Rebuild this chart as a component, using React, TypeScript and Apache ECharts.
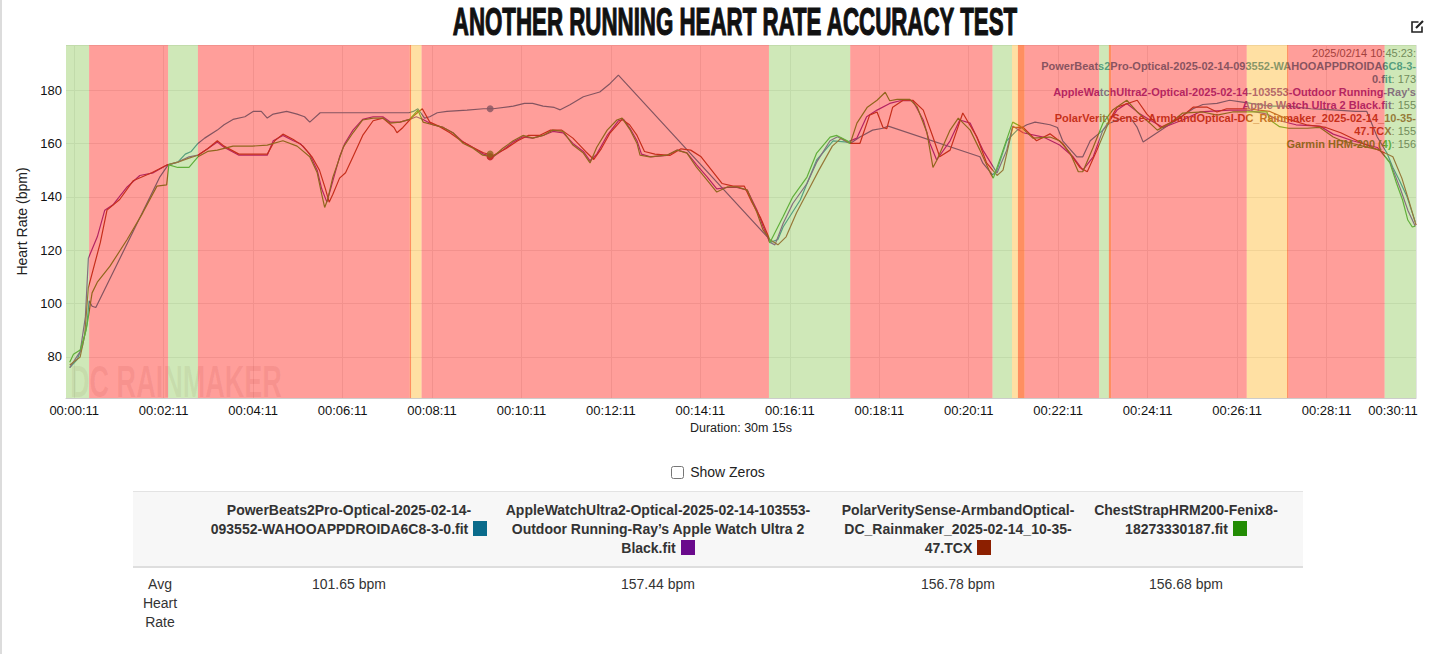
import React, { useEffect, useRef } from "react";
import * as echarts from "echarts";

const TITLE = "ANOTHER RUNNING HEART RATE ACCURACY TEST";
const FONT = '"Liberation Sans", Arial, Helvetica, sans-serif';

const SERIES_KEYS = ["pb", "aw", "pl", "cs"];
const SERIES_COLORS = ["#0a6b8b", "#6a0a8c", "#8c1f00", "#238c04"];
const HEADER_LINES = [
  ["PowerBeats2Pro-Optical-2025-02-14-", "093552-WAHOOAPPDROIDA6C8-3-0.fit"],
  ["AppleWatchUltra2-Optical-2025-02-14-103553-", "Outdoor Running-Ray\u2019s Apple Watch Ultra 2", "Black.fit"],
  ["PolarVeritySense-ArmbandOptical-", "DC_Rainmaker_2025-02-14_10-35-", "47.TCX"],
  ["ChestStrapHRM200-Fenix8-", "18273330187.fit"],
];
const HEADER_CENTERS = [349, 658, 958, 1186];
const AVG_HR = ["101.65 bpm", "157.44 bpm", "156.78 bpm", "156.68 bpm"];
const ROW_LABEL = ["Avg", "Heart", "Rate"];

const TOOLTIP_TIME = "2025/02/14 10:45:23:";
const TOOLTIP_LINES: [number, string, string][] = [
  [0, "PowerBeats2Pro-Optical-2025-02-14-093552-WAHOOAPPDROIDA6C8-3-", ""],
  [0, "0.fit", ": 173"],
  [1, "AppleWatchUltra2-Optical-2025-02-14-103553-Outdoor Running-Ray's", ""],
  [1, "Apple Watch Ultra 2 Black.fit", ": 155"],
  [2, "PolarVeritySense-ArmbandOptical-DC_Rainmaker_2025-02-14_10-35-", ""],
  [2, "47.TCX", ": 155"],
  [3, "Garmin HRM-200 (4)", ": 156"],
];
const HOVER_TIME = 569;
const HOVER_VALUES = [173, 155, 155, 156];

const X_TICKS = [11, 131, 251, 371, 491, 611, 731, 851, 971, 1091, 1211, 1331, 1451, 1571, 1691, 1811];
const X_MAX = 1811;
const Y_MIN = 64.6;
const Y_MAX = 196.9;

// zone bands: [start s, end s, kind]  kind: 0 green, 1 red, 2 yellow, 3 orange
const BANDS: [number, number, number][] = [
  [0, 31, 0], [31, 137, 1], [137, 177, 0], [177, 461, 1], [461, 463, 3], [463, 477, 2],
  [477, 943, 1], [943, 1052, 0], [1052, 1243, 1], [1243, 1269, 0], [1269, 1277, 2],
  [1277, 1286, 3], [1286, 1386, 1], [1386, 1399, 0], [1399, 1402, 3], [1402, 1584, 1],
  [1584, 1638, 2], [1638, 1640, 3], [1640, 1769, 1], [1769, 1811, 0],
];
const BAND_COLORS = ["rgba(159,209,113,0.5)", "rgba(255,61,53,0.5)", "rgba(255,193,71,0.5)", "rgba(255,96,28,0.7)"];

const powerBeats: [number, number][] = [
  [5, 76], [15, 79], [22, 84], [28, 92], [31, 101], [35, 99], [40, 98.5], [126, 147.5], [137, 152], [150, 153],
  [160, 156], [168, 157], [177, 160], [186, 162], [203, 165], [212, 167], [224, 169], [240, 170], [251, 172],
  [262, 172], [270, 169.5], [278, 171], [296, 172], [310, 171], [320, 170], [327, 168], [341, 171.5],
  [460, 171.5], [466, 172], [472, 173], [481, 169.5], [488, 170], [498, 171.5], [511, 172], [538, 172.5],
  [560, 173], [573, 173], [600, 174], [615, 175], [626, 175], [640, 174], [655, 173.5], [663, 172.6],
  [676, 174.5], [694, 177.5], [716, 179.3], [730, 182.5], [741, 185.6], [942, 124.6], [946, 123], [955, 124],
  [962, 128.7], [985, 138.8], [1007, 153.8], [1029, 161], [1048, 160.5], [1052, 160], [1065, 162.4],
  [1082, 165], [1096, 165.7], [1103, 166.5], [1226, 155], [1230, 152.6], [1243, 148.2], [1249, 150],
  [1262, 161], [1276, 165], [1289, 167], [1300, 168], [1320, 167], [1330, 166], [1337, 161], [1356, 155],
  [1364, 155], [1374, 161], [1391, 165], [1400, 167.6], [1410, 168.8], [1427, 170], [1437, 166],
  [1445, 160.5], [1512, 173], [1525, 174.6], [1544, 175], [1561, 176.2], [1578, 175.5], [1590, 175],
  [1615, 174], [1640, 174], [1670, 173], [1700, 172.6], [1730, 172], [1745, 172], [1759, 162.4],
  [1772, 156.4], [1780, 151], [1789, 146], [1799, 140], [1806, 134], [1810, 130.6],
];

const appleWatch: [number, number][] = [
  [5, 76], [19, 82], [26, 95], [30, 117], [42, 125], [52, 135], [63, 137], [82, 143.7], [99, 148], [117, 149],
  [136, 152], [150, 153], [165, 155], [177, 155.6], [190, 158], [203, 160.5], [212, 158.6], [232, 155.6],
  [250, 155.6], [270, 155.6], [278, 161], [291, 163], [305, 161], [314, 160], [327, 156], [337, 150],
  [343, 143], [350, 138], [358, 146], [367, 155], [374, 160], [385, 165], [398, 169], [412, 170], [425, 170],
  [435, 168], [448, 168], [461, 169], [470, 170], [479, 169], [492, 167], [506, 166], [519, 164],
  [533, 160.5], [546, 158.5], [560, 156], [573, 155], [586, 157.5], [600, 160.5], [613, 162.5], [626, 162],
  [640, 163], [653, 164.5], [667, 164], [680, 160], [694, 157], [703, 153.5], [712, 156], [726, 163],
  [741, 168.5], [748, 169], [757, 165.5], [766, 161], [772, 156], [784, 155], [806, 155.5], [820, 157.5],
  [833, 156.5], [846, 152], [860, 147.5], [873, 143], [887, 143.5], [900, 143.5], [914, 142.5], [927, 135],
  [935, 129], [944, 123], [951, 122], [962, 130], [975, 137.5], [994, 145], [1007, 153], [1025, 161],
  [1035, 162.5], [1048, 160.5], [1061, 162], [1074, 170], [1088, 172.5], [1105, 175], [1119, 176],
  [1136, 176], [1150, 168.8], [1159, 160], [1168, 153.8], [1186, 161], [1199, 168.8], [1213, 167.6],
  [1230, 157.5], [1249, 148.9], [1262, 157.5], [1270, 166.5], [1284, 164], [1311, 162.4], [1333, 159.4],
  [1351, 155], [1364, 150], [1378, 155], [1391, 165], [1410, 172.5], [1423, 175], [1441, 171],
  [1454, 168.8], [1472, 166], [1498, 168.8], [1521, 171.8], [1561, 172.5], [1584, 172.5], [1611, 171],
  [1628, 168.5], [1650, 167], [1682, 166.5], [1700, 163.5], [1726, 161], [1759, 158.5], [1776, 153],
  [1790, 143], [1800, 135], [1810, 129],
];

const polar: [number, number][] = [
  [5, 77], [19, 80], [25, 88], [30, 106], [46, 122.8], [55, 135], [72, 139], [90, 146], [115, 149], [136, 152],
  [150, 153], [165, 154.5], [177, 155.6], [190, 158], [203, 161], [212, 159], [232, 156], [250, 156], [270, 156],
  [280, 161], [291, 163.5], [305, 161.5], [318, 159], [330, 155], [340, 150], [348, 143], [353, 138],
  [358, 141], [367, 147], [375, 149], [385, 155], [398, 163], [412, 168.5], [425, 169.5], [440, 166],
  [444, 164], [452, 166], [465, 170], [478, 173], [488, 168], [500, 166.5], [515, 164], [530, 161],
  [546, 158.5], [560, 156.5], [573, 155.5], [590, 158], [606, 161], [620, 163], [635, 163], [650, 165],
  [665, 165], [680, 162], [697, 157], [708, 154], [718, 158], [730, 164], [746, 169], [756, 167], [766, 163],
  [776, 157], [790, 156], [810, 155.5], [825, 158], [838, 157.5], [852, 155], [866, 150], [880, 145],
  [895, 144], [910, 144], [920, 138], [932, 132], [944, 124], [955, 122], [966, 125], [980, 134], [995, 142],
  [1010, 150], [1028, 159], [1040, 162], [1052, 160], [1065, 160], [1078, 170.6], [1088, 171.8], [1096, 166],
  [1101, 165.5], [1109, 173.6], [1123, 176.2], [1136, 176.2], [1150, 172.5], [1163, 162.4], [1172, 155],
  [1186, 157.5], [1203, 171.4], [1222, 162.4], [1235, 152.7], [1249, 148], [1257, 150], [1270, 166],
  [1284, 166], [1302, 161], [1320, 163.6], [1337, 160], [1360, 151], [1370, 149.4], [1383, 157.5],
  [1400, 168.8], [1410, 173.6], [1437, 176.2], [1450, 171], [1468, 166], [1494, 169.5], [1512, 173.6],
  [1531, 173.6], [1544, 171.8], [1557, 173], [1584, 173], [1615, 172], [1640, 169], [1664, 167], [1690, 166],
  [1710, 164], [1740, 160], [1765, 157], [1780, 155], [1792, 147], [1802, 138], [1811, 129.4],
];

const chestStrap: [number, number][] = [
  [5, 78], [10, 81], [19, 82.6], [27, 90], [30, 95], [35, 104], [42, 108], [59, 114], [82, 124], [103, 134],
  [122, 144], [135, 144.5], [138, 152], [150, 151], [165, 151], [177, 155], [190, 157], [203, 157.5],
  [224, 159], [250, 159], [270, 159.4], [291, 161], [310, 159], [327, 155], [337, 149], [343, 141], [347, 136],
  [351, 139], [358, 147.4], [372, 158.6], [385, 164], [398, 168.8], [412, 169.5], [425, 169.5], [435, 167.6],
  [448, 168], [461, 169], [472, 172.5], [479, 168], [492, 167], [506, 166], [519, 164], [533, 160],
  [546, 158.2], [559, 155.6], [573, 155], [586, 158.2], [600, 161], [613, 163], [626, 162], [640, 163],
  [653, 165], [667, 164.5], [680, 159.4], [694, 156.4], [703, 152.7], [712, 158.6], [726, 165], [739, 168.8],
  [746, 169.5], [757, 165], [766, 160], [770, 155.6], [783, 155], [806, 155.6], [820, 157.5], [833, 156.4],
  [846, 151], [860, 146.3], [873, 141.8], [887, 143.7], [900, 143.7], [914, 142.5], [927, 134], [935, 127.6],
  [942, 125], [944, 122.7], [962, 132.6], [975, 140], [994, 147.4], [1007, 156.4], [1025, 162.4], [1034, 163],
  [1048, 161], [1052, 160], [1061, 167.6], [1075, 173.6], [1088, 176.2], [1099, 179.2], [1105, 176],
  [1115, 176.5], [1132, 176.5], [1142, 173.6], [1155, 164], [1163, 151], [1168, 153.6], [1186, 165],
  [1197, 169.5], [1213, 165], [1226, 157.5], [1240, 148.9], [1244, 147], [1257, 157.5], [1270, 168],
  [1280, 166.5], [1297, 162], [1320, 162.4], [1333, 161], [1347, 156.4], [1358, 149.4], [1364, 149.4],
  [1378, 158.6], [1391, 167.6], [1404, 172.5], [1423, 176.2], [1437, 171.8], [1454, 167.6], [1464, 165],
  [1481, 167.6], [1498, 171.4], [1525, 171.8], [1544, 170.6], [1565, 171.8], [1584, 171.8], [1611, 171.8],
  [1615, 168.8], [1628, 166.3], [1640, 165.7], [1665, 165.7], [1682, 166], [1692, 164], [1700, 162.4],
  [1709, 161.3], [1726, 160], [1745, 158.6], [1763, 157.5], [1776, 152.7], [1785, 145], [1793, 138.8],
  [1800, 131.3], [1806, 128.7], [1810, 129],
];

const SERIES_DATA = [powerBeats, appleWatch, polar, chestStrap];

const pad2 = (n: number) => (n < 10 ? "0" + n : "" + n);
const fmtTime = (v: number) => {
  const h = Math.floor(v / 3600);
  const m = Math.floor((v % 3600) / 60);
  const s = Math.round(v % 60);
  return pad2(h) + ":" + pad2(m) + ":" + pad2(s);
};

function measure(text: string, font: string) {
  const c = document.createElement("canvas").getContext("2d");
  if (!c) return text.length * 20;
  c.font = font;
  return c.measureText(text).width;
}

function Chart() {
  const ref = useRef<HTMLDivElement>(null);
  useEffect(() => {
    if (!ref.current) return;
    const chart = echarts.init(ref.current, undefined, { renderer: "svg" });
    const titleFont = 'bold 38px "Liberation Sans", Arial, sans-serif';
    const titleScale = 566 / measure(TITLE, titleFont);
    const wmFont = 'bold 44px "Liberation Sans", Arial, sans-serif';
    const wmScale = 212 / measure("DC RAINMAKER", wmFont);

    const rich: any = {
      v: { fill: "#444", fontSize: 11, fontFamily: FONT, fontWeight: "normal" },
    };
    SERIES_KEYS.forEach((k, i) => {
      rich[k] = { fill: SERIES_COLORS[i], fontSize: 11, fontFamily: FONT, fontWeight: "bold" };
    });

    const tooltipTexts: any[] = [
      {
        type: "text",
        z: 3,
        x: 1416,
        y: 53,
        style: { text: TOOLTIP_TIME, fill: "#444", font: "11px " + FONT, align: "right", verticalAlign: "middle" },
      },
      ...TOOLTIP_LINES.map((l, i) => ({
        type: "text",
        z: 3,
        x: 1416,
        y: 66 + i * 13,
        style: {
          text: `{${SERIES_KEYS[l[0]]}|${l[1]}}` + (l[2] ? `{v|${l[2]}}` : ""),
          rich,
          align: "right",
          verticalAlign: "middle",
        },
      })),
    ];

    const option: any = {
      animation: false,
      grid: { left: 66, right: 20, top: 45, bottom: 47 },
      xAxis: {
        type: "value",
        min: 0,
        max: X_MAX,
        name: "Duration: 30m 15s",
        nameLocation: "middle",
        nameGap: 23,
        nameTextStyle: { fontSize: 12.5, color: "#222", fontFamily: FONT },
        axisLine: { show: true, lineStyle: { color: "#cccccc" } },
        axisTick: { show: false, customValues: X_TICKS },
        splitLine: { show: true, lineStyle: { color: "#e4e4e4" } },
        axisLabel: {
          customValues: X_TICKS,
          color: "#111",
          fontSize: 13,
          fontFamily: FONT,
          margin: 6,
          formatter: (v: number) =>
            v === X_TICKS[X_TICKS.length - 1] ? `{last|${fmtTime(v)}}` : fmtTime(v),
          rich: { last: { padding: [0, 46, 0, 0], fontSize: 13, color: "#111", fontFamily: FONT } },
        },
      },
      yAxis: {
        type: "value",
        min: Y_MIN,
        max: Y_MAX,
        splitNumber: 6,
        name: "Heart Rate (bpm)",
        nameLocation: "middle",
        nameGap: 28,
        nameTextStyle: { fontSize: 14, color: "#222", fontFamily: FONT },
        axisLine: { show: false },
        axisTick: { show: false },
        splitLine: { show: true, lineStyle: { color: "#e4e4e4" } },
        axisLabel: { color: "#111", fontSize: 13, fontFamily: FONT, margin: 4, showMinLabel: false, showMaxLabel: false },
      },
      series: [
        ...SERIES_DATA.map((d, i) => ({
          type: "line",
          name: SERIES_KEYS[i],
          data: d,
          z: 2,
          showSymbol: false,
          symbol: "none",
          lineStyle: { color: SERIES_COLORS[i], width: 1.2 },
          itemStyle: { color: SERIES_COLORS[i] },
        })),
        {
          type: "scatter",
          z: 3,
          symbolSize: 7,
          data: HOVER_VALUES.map((v, i) => ({ value: [HOVER_TIME, v], itemStyle: { color: SERIES_COLORS[i] } })),
        },
        {
          type: "custom",
          z: 5,
          dimensions: ["start", "end", "kind"],
          encode: { x: [0, 1], y: 2 },
          data: BANDS,
          renderItem: (params: any, api: any) => {
            const p0 = api.coord([api.value(0), Y_MAX]);
            const p1 = api.coord([api.value(1), Y_MIN]);
            const cs = params.coordSys;
            return {
              type: "rect",
              shape: { x: p0[0], y: cs.y, width: p1[0] - p0[0], height: cs.height },
              style: { fill: BAND_COLORS[api.value(2)] },
            };
          },
        },
      ],
      graphic: [
        {
          type: "text",
          z: 20,
          x: 735,
          y: 22,
          scaleX: titleScale,
          style: {
            text: TITLE,
            font: titleFont,
            fill: "#111",
            stroke: "#111",
            lineWidth: 1.2,
            align: "center",
            verticalAlign: "middle",
          },
        },
        {
          type: "text",
          z: 1,
          x: 70,
          y: 382,
          scaleX: wmScale,
          style: {
            text: "DC RAINMAKER",
            font: wmFont,
            fill: "rgba(90,0,0,0.10)",
            align: "left",
            verticalAlign: "middle",
          },
        },
        ...tooltipTexts,
        {
          type: "polyline",
          z: 20,
          shape: { points: [[1418.5, 22], [1412, 22], [1412, 32], [1422, 32], [1422, 26.5]] },
          style: { stroke: "#222", lineWidth: 1.6, fill: null },
        },
        {
          type: "line",
          z: 20,
          shape: { x1: 1416, y1: 28, x2: 1423, y2: 21 },
          style: { stroke: "#222", lineWidth: 2.2 },
        },
      ],
    };
    chart.setOption(option);
    return () => chart.dispose();
  }, []);
  return <div ref={ref} style={{ position: "absolute", left: 0, top: 0, width: 1436, height: 445 }} />;
}

export default function App() {
  const textBase: React.CSSProperties = { fontFamily: FONT, fontSize: 14, color: "#333", lineHeight: "19px" };
  return (
    <div style={{ position: "absolute", left: 0, top: 0, width: 1436, height: 654, background: "#fff", overflow: "hidden" }}>
      <div style={{ position: "absolute", left: 0, top: 0, width: 2, height: 654, background: "#dcdcdc" }} />
      <Chart />
      <div
        style={{
          position: "absolute",
          left: 0,
          top: 463,
          width: 1436,
          textAlign: "center",
          fontFamily: FONT,
          fontSize: 14,
          color: "#222",
          lineHeight: "18px",
        }}
      >
        <input type="checkbox" style={{ margin: "0 6px 0 0", width: 13, height: 13, verticalAlign: -2 }} />
        <span>Show Zeros</span>
      </div>
      <div
        style={{
          position: "absolute",
          left: 133,
          top: 491,
          width: 1170,
          height: 74,
          background: "#f7f7f7",
          borderTop: "1px solid #e3e3e3",
          borderBottom: "2px solid #dedede",
        }}
      />
      {HEADER_LINES.map((lines, i) => (
        <div
          key={i}
          style={{
            ...textBase,
            position: "absolute",
            left: HEADER_CENTERS[i] - 170,
            width: 340,
            top: 501,
            textAlign: "center",
            fontWeight: "bold",
            whiteSpace: "nowrap",
          }}
        >
          {lines.map((l, j) => (
            <div key={j}>
              {l}
              {j === lines.length - 1 ? (
                <span
                  style={{
                    display: "inline-block",
                    width: 14,
                    height: 15,
                    marginLeft: 5,
                    verticalAlign: -2,
                    background: SERIES_COLORS[i],
                  }}
                />
              ) : null}
            </div>
          ))}
        </div>
      ))}
      <div style={{ ...textBase, position: "absolute", left: 130, width: 60, top: 575, textAlign: "center" }}>
        {ROW_LABEL.map((l, j) => (
          <div key={j}>{l}</div>
        ))}
      </div>
      {AVG_HR.map((v, i) => (
        <div
          key={i}
          style={{ ...textBase, position: "absolute", left: HEADER_CENTERS[i] - 100, width: 200, top: 575, textAlign: "center" }}
        >
          {v}
        </div>
      ))}
    </div>
  );
}
